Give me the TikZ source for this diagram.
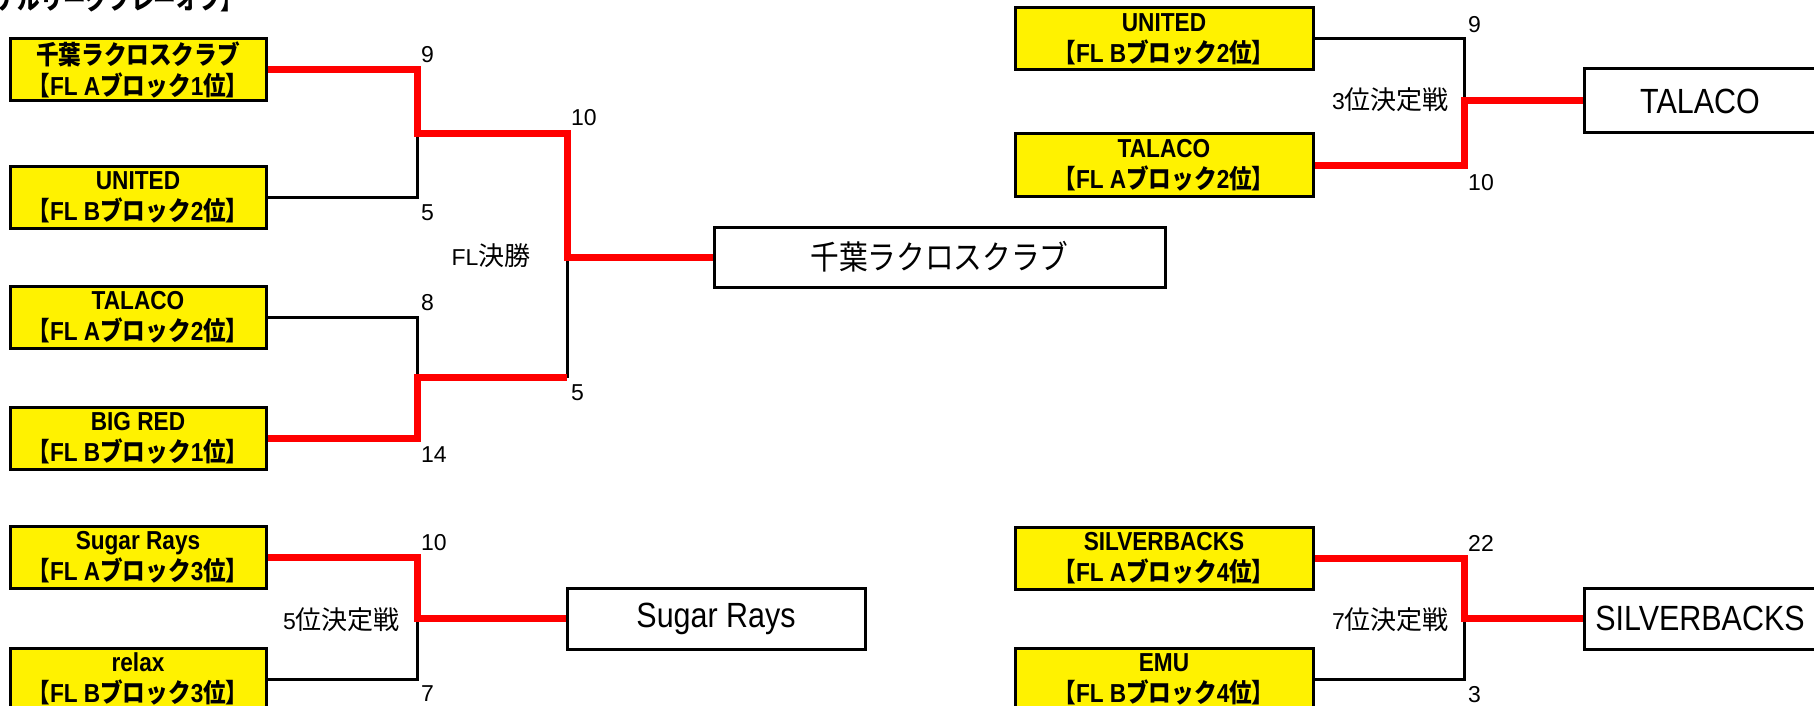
\documentclass[tikz,border=0pt]{standalone}
\usepackage{fontspec}
\setmainfont{Liberation Sans}
\newfontfamily\lsn[FakeStretch=0.87]{Liberation Sans}
\newfontfamily\jpn[FakeStretch=0.87]{Noto Sans CJK JP}
\newfontfamily\jpp[FakeStretch=0.87,RawFeature=+palt]{Noto Sans CJK JP}
\newfontfamily\jpr{Noto Sans CJK JP}
\newcommand\jtxt[1]{{\jpn #1}}
\newcommand\jbr[1]{{\jpp #1}}
\newcommand\jreg[1]{{\jpr\fontsize{26}{28}\selectfont #1}}
\newcommand\blk[2]{\jbr{【}FL #1\jtxt{ブロック}#2\jtxt{位}\jbr{】}}
\begin{document}
\begin{tikzpicture}[x=1pt,y=-1pt,
  team/.style={draw, line width=3pt, fill=yellow, minimum width=256pt, minimum height=62pt,
    inner sep=0pt, align=center, font=\lsn\bfseries\fontsize{26}{31}\selectfont},
  teamR/.style={team, minimum width=298pt},
  result/.style={draw, line width=3pt, fill=white, minimum height=61pt, inner sep=0pt,
    font=\lsn\fontsize{35}{40}\selectfont},
  score/.style={font=\fontsize{23}{26}\selectfont, inner sep=0pt, anchor=west},
  lbl/.style={font=\fontsize{23}{26}\selectfont, inner sep=0pt},
  win/.style={red, line width=7pt},
  lose/.style={black, line width=3pt}]
\useasboundingbox (0,0) rectangle (1814,706);
\clip (0,0) rectangle (1814,706);
\fill[white] (0,0) rectangle (1814,706);

% title (cut off at the top)
\node[font=\lsn\bfseries\fontsize{26}{30}\selectfont, anchor=base east, inner sep=0pt] (title) at (233,10)
  {\jtxt{ファイナルリーグプレーオフ}\jbr{】}};

% left column teams
\node[team] (b1) at (138,70)  {\jtxt{千葉ラクロスクラブ}\\\blk{A}{1}};
\node[team] (b2) at (138,197) {UNITED\\\blk{B}{2}};
\node[team] (b3) at (138,317) {TALACO\\\blk{A}{2}};
\node[team] (b4) at (138,438) {BIG RED\\\blk{B}{1}};
\node[team] (b5) at (138,557) {Sugar Rays\\\blk{A}{3}};
\node[team] (b6) at (138,679) {relax\\\blk{B}{3}};

% right column teams
\node[teamR] (r1) at (1164,39)  {UNITED\\\blk{B}{2}};
\node[teamR] (r2) at (1164,165) {TALACO\\\blk{A}{2}};
\node[teamR] (r3) at (1164,558) {SILVERBACKS\\\blk{A}{4}};
\node[teamR] (r4) at (1164,679) {EMU\\\blk{B}{4}};

% results
\node[result, minimum width=451pt, minimum height=60pt] (fin) at (939.5,257)
  {\jpn\fontsize{33}{36}\selectfont 千葉ラクロスクラブ};
\node[result, minimum width=298pt] (res5) at (716,618.5) {Sugar Rays};
\node[result, minimum width=232pt, minimum height=64pt] (res3) at (1700,101) {TALACO};
\node[result, minimum width=232pt] (res7) at (1700,618.5) {SILVERBACKS};

% junctions
\coordinate (j1) at (417,133.5);
\coordinate (j2) at (417,377.5);
\coordinate (j2r) at (567,377.5);
\coordinate (f1) at (567,257);
\coordinate (j3) at (417,618.5);
\coordinate (j4) at (1464,101);
\coordinate (j5) at (1464,618.5);

% losing lines
\draw[lose] (b2.east) -| (j1);
\draw[lose] (b3.east) -| (j2);
\draw[lose] (j2r) -- (f1);
\draw[lose] (b6.east) -| (j3);
\draw[lose] (r1.east) -| (j4);
\draw[lose] (r4.east) -| (j5);

% winning lines
\draw[win] (b1.east) -| (j1) -| (f1) -- (fin.west);
\draw[win] (b4.east) -| (j2) -- (j2r);
\draw[win] (b5.east) -| (j3) -- (res5.west);
\draw[win] (r2.east) -| (j4) -- (res3.west);
\draw[win] (r3.east) -| (j5) -- (res7.west);

% scores
\node[score] (s1) at (421,55) {9};
\node[score] (s2) at (421,213) {5};
\node[score] (s3) at (421,303) {8};
\node[score] (s4) at (421,455) {14};
\node[score] (s5) at (571,118) {10};
\node[score] (s6) at (571,393) {5};
\node[score] (s7) at (421,543) {10};
\node[score] (s8) at (421,694) {7};
\node[score] (s9) at (1468,25) {9};
\node[score] (s10) at (1468,183) {10};
\node[score] (s11) at (1468,543) {22};
\node[score] (s12) at (1468,695) {3};

% round labels
\node[lbl] (fl) at (491,256) {FL\jreg{決勝}};
\node[lbl, anchor=east] (p5) at (400,620) {5\jreg{位決定戦}};
\node[lbl, anchor=east] (p3) at (1449,100) {3\jreg{位決定戦}};
\node[lbl, anchor=east] (p7) at (1449,620) {7\jreg{位決定戦}};
\end{tikzpicture}
\end{document}
